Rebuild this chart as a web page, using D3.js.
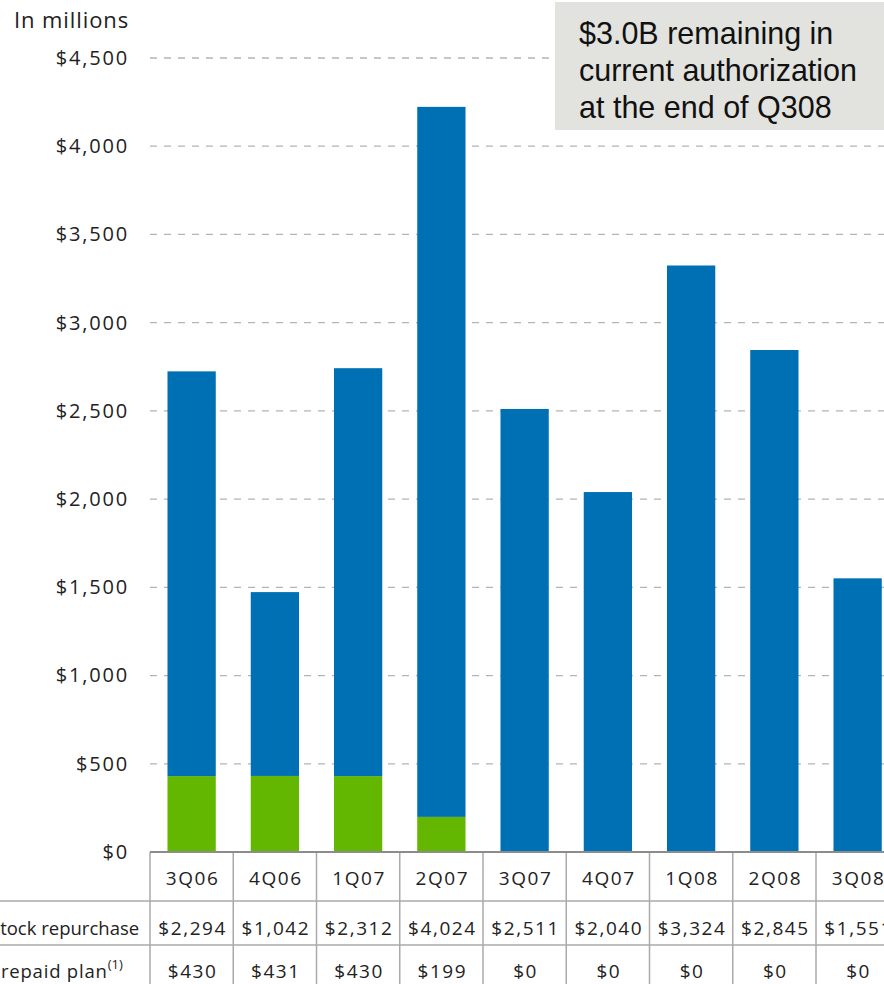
<!DOCTYPE html>
<html>
<head>
<meta charset="utf-8">
<script src="https://cdn.jsdelivr.net/npm/d3@7"></script>
<style>
  html, body { margin: 0; padding: 0; background: #fff; overflow: hidden; }
  svg { display: block; }
</style>
</head>
<body>
<svg id="chart" width="884" height="984"></svg>
<script>
// Quarterly share repurchases, in millions of dollars
const quarters = ["3Q06", "4Q06", "1Q07", "2Q07", "3Q07", "4Q07", "1Q08", "2Q08", "3Q08"];
const stockRepurchase = [2294, 1042, 2312, 4024, 2511, 2040, 3324, 2845, 1551];
const prepaidPlan = [430, 431, 430, 199, 0, 0, 0, 0, 0];
const yTicks = [0, 500, 1000, 1500, 2000, 2500, 3000, 3500, 4000, 4500];
const calloutLines = ["$3.0B remaining in", "current authorization", "at the end of Q308"];

const BLUE = "#0070b4";
const GREEN = "#63b700";
const FONT = "'Open Sans', Lato, sans-serif";

const svg = d3.select("#chart");

const x = d3.scaleBand()
  .domain(quarters)
  .range([150, 150 + 83.25 * quarters.length])
  .paddingInner(0.42)
  .paddingOuter(0.21);

const y = d3.scaleLinear().domain([0, 4500]).range([852, 58]);

const fmt = v => "$" + d3.format(",")(v);

// Gridlines
svg.append("g")
  .selectAll("line")
  .data(yTicks.filter(t => t > 0))
  .join("line")
  .attr("x1", 150).attr("x2", 884)
  .attr("y1", d => y(d)).attr("y2", d => y(d))
  .attr("stroke", "#b4b4b4")
  .attr("stroke-width", 1.3)
  .attr("stroke-dasharray", "7,7");

// Y axis labels
const yAxis = svg.append("g")
  .attr("transform", "translate(139,0)")
  .call(d3.axisLeft(y).tickValues(yTicks).tickFormat(fmt).tickSize(0).tickPadding(10));
yAxis.select(".domain").remove();
yAxis.selectAll("text")
  .attr("font-family", FONT)
  .attr("font-size", 20)
  .attr("letter-spacing", 1.8)
  .attr("fill", "#222");

svg.append("text")
  .attr("x", 14).attr("y", 28)
  .attr("font-family", FONT)
  .attr("font-size", 22)
  .attr("letter-spacing", 0.9)
  .attr("fill", "#222")
  .text("In millions");

// Stacked bars
const stackData = quarters.map((q, i) => ({ q, prepaid: prepaidPlan[i], stock: stockRepurchase[i] }));
const series = d3.stack().keys(["prepaid", "stock"])(stackData);
const colors = { prepaid: GREEN, stock: BLUE };

svg.append("g")
  .selectAll("g")
  .data(series)
  .join("g")
  .attr("fill", d => colors[d.key])
  .selectAll("rect")
  .data(d => d.filter(s => s[1] > s[0]))
  .join("rect")
  .attr("x", d => x(d.data.q))
  .attr("width", x.bandwidth())
  .attr("y", d => y(d[1]))
  .attr("height", d => y(d[0]) - y(d[1]));

// Data table below the axis
const step = x.step();
const left = 150;
const right = left + step * quarters.length;
const table = svg.append("g");

table.append("g")
  .selectAll("line")
  .data(d3.range(quarters.length + 1))
  .join("line")
  .attr("x1", i => left + i * step).attr("x2", i => left + i * step)
  .attr("y1", 852).attr("y2", 984)
  .attr("stroke", "#aaa").attr("stroke-width", 1.5);

table.selectAll(".hrow")
  .data([901, 945])
  .join("line")
  .attr("x1", 0).attr("x2", right)
  .attr("y1", d => d).attr("y2", d => d)
  .attr("stroke", "#aaa").attr("stroke-width", 1.5);

// Baseline axis
svg.append("line")
  .attr("x1", left).attr("x2", right)
  .attr("y1", 852).attr("y2", 852)
  .attr("stroke", "#8c8c8c").attr("stroke-width", 2);

const cellText = (vals, baseline) => table.append("g")
  .selectAll("text")
  .data(vals)
  .join("text")
  .attr("x", (d, i) => x(quarters[i]) + x.bandwidth() / 2 + 1)
  .attr("y", baseline)
  .attr("text-anchor", "middle")
  .attr("font-family", FONT)
  .attr("font-size", 19)
  .attr("letter-spacing", 1.6)
  .attr("fill", "#222")
  .text(d => d);

cellText(quarters, 885);
cellText(stockRepurchase.map(fmt), 935);
cellText(prepaidPlan.map(fmt), 978);

table.append("text")
  .attr("x", -10).attr("y", 935)
  .attr("font-family", FONT).attr("font-size", 18.5)
  .attr("fill", "#222")
  .text("Stock repurchase");

const pp = table.append("text")
  .attr("x", -11).attr("y", 978)
  .attr("font-family", FONT).attr("font-size", 18.5)
  .attr("letter-spacing", 0.8).attr("fill", "#222");
pp.append("tspan").text("Prepaid plan");
pp.append("tspan").attr("dy", -9).attr("font-size", 13).attr("letter-spacing", 0).text("(1)");

// Callout box
const callout = svg.append("g");
callout.append("rect")
  .attr("x", 555).attr("y", 2)
  .attr("width", 340).attr("height", 128)
  .attr("fill", "#e2e2de");
callout.selectAll("text")
  .data(calloutLines)
  .join("text")
  .attr("x", 579)
  .attr("y", (d, i) => 44 + i * 37)
  .attr("font-family", "'Liberation Sans', Arial, sans-serif")
  .attr("font-size", 30.5)
  .attr("fill", "#111")
  .text(d => d);
</script>
</body>
</html>
